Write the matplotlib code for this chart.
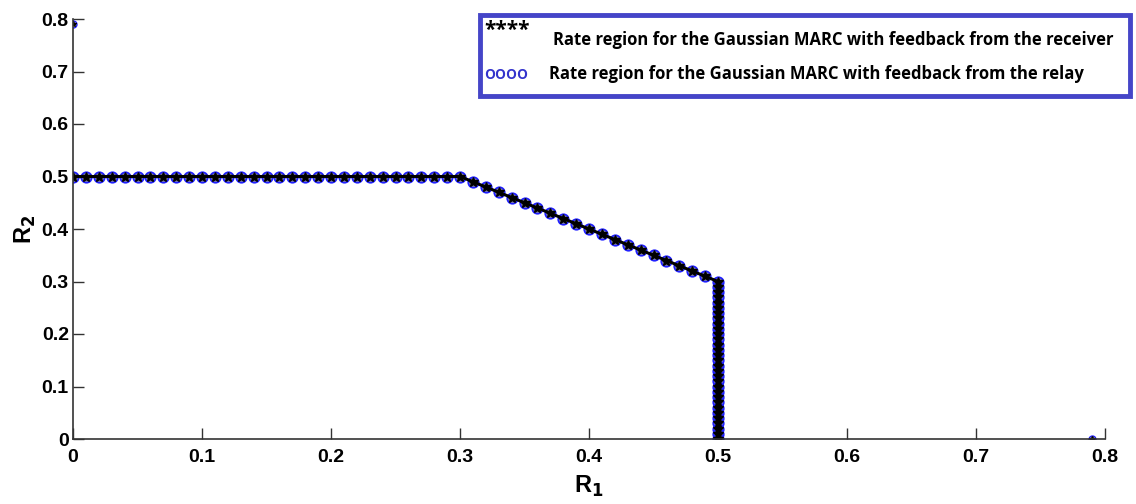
import matplotlib
matplotlib.use("Agg")
import matplotlib.pyplot as plt
from matplotlib.patches import Rectangle

# ---- data ----
# horizontal part (R2 = 0.5)
flat_r1 = [0.00, 0.01, 0.02, 0.03, 0.04, 0.05, 0.06, 0.07, 0.08, 0.09,
           0.10, 0.11, 0.12, 0.13, 0.14, 0.15, 0.16, 0.17, 0.18, 0.19,
           0.20, 0.21, 0.22, 0.23, 0.24, 0.25, 0.26, 0.27, 0.28, 0.29]
flat_r2 = [0.50, 0.50, 0.50, 0.50, 0.50, 0.50, 0.50, 0.50, 0.50, 0.50,
           0.50, 0.50, 0.50, 0.50, 0.50, 0.50, 0.50, 0.50, 0.50, 0.50,
           0.50, 0.50, 0.50, 0.50, 0.50, 0.50, 0.50, 0.50, 0.50, 0.50]
# sloped part (R1 + R2 = 0.8)
slope_r1 = [0.30, 0.31, 0.32, 0.33, 0.34, 0.35, 0.36, 0.37, 0.38, 0.39, 0.40,
            0.41, 0.42, 0.43, 0.44, 0.45, 0.46, 0.47, 0.48, 0.49, 0.50]
slope_r2 = [0.50, 0.49, 0.48, 0.47, 0.46, 0.45, 0.44, 0.43, 0.42, 0.41, 0.40,
            0.39, 0.38, 0.37, 0.36, 0.35, 0.34, 0.33, 0.32, 0.31, 0.30]
# vertical part (R1 = 0.5)
vert_r1 = [0.50, 0.50, 0.50, 0.50, 0.50, 0.50, 0.50, 0.50, 0.50, 0.50,
           0.50, 0.50, 0.50, 0.50, 0.50, 0.50, 0.50, 0.50, 0.50, 0.50,
           0.50, 0.50, 0.50, 0.50, 0.50, 0.50, 0.50, 0.50, 0.50, 0.50]
vert_r2 = [0.29, 0.28, 0.27, 0.26, 0.25, 0.24, 0.23, 0.22, 0.21, 0.20,
           0.19, 0.18, 0.17, 0.16, 0.15, 0.14, 0.13, 0.12, 0.11, 0.10,
           0.09, 0.08, 0.07, 0.06, 0.05, 0.04, 0.03, 0.02, 0.01, 0.00]
# single-user extreme points
extreme_r1 = [0.00, 0.79]
extreme_r2 = [0.79, 0.00]

x_ticks = [0, 0.1, 0.2, 0.3, 0.4, 0.5, 0.6, 0.7, 0.8]
y_ticks = [0, 0.1, 0.2, 0.3, 0.4, 0.5, 0.6, 0.7, 0.8]
x_ticklabels = ["0", "0.1", "0.2", "0.3", "0.4", "0.5", "0.6", "0.7", "0.8"]
y_ticklabels = ["0", "0.1", "0.2", "0.3", "0.4", "0.5", "0.6", "0.7", "0.8"]

legend_receiver = "Rate region for the Gaussian MARC with feedback from the receiver"
legend_relay = "Rate region for the Gaussian MARC with feedback from the relay"

region_r1 = flat_r1 + slope_r1 + vert_r1
region_r2 = flat_r2 + slope_r2 + vert_r2

tick_font = ["Liberation Sans Narrow", "Liberation Sans", "DejaVu Sans"]
leg_font = ["Open Sans", "DejaVu Sans"]

fig = plt.figure(figsize=(11.36, 5.04), dpi=100)
ax = fig.add_axes([73 / 1136, 1 - 439 / 504, (1105 - 73) / 1136, (439 - 19) / 504])

# relay: blue circles
ax.plot(region_r1, region_r2, linestyle="none", marker="o", markersize=7.5,
        markerfacecolor="#9090a0", markeredgecolor="#2020ff", markeredgewidth=1.3)
ax.plot(extreme_r1, extreme_r2, linestyle="none", marker="o", markersize=5,
        markerfacecolor="none", markeredgecolor="#2020ff", markeredgewidth=1.0)
# receiver: black stars with line
ax.plot(region_r1, region_r2, color="black", linewidth=2.2, marker="*",
        markersize=7.5, markerfacecolor="black", markeredgecolor="black")
ax.plot(extreme_r1, extreme_r2, linestyle="none", marker="*", markersize=4,
        color="black")

ax.set_xlim(0, 0.8)
ax.set_ylim(0, 0.8)
ax.set_xticks(x_ticks)
ax.set_yticks(y_ticks)
ax.set_xticklabels(x_ticklabels, fontfamily=tick_font, fontweight="bold", fontsize=14)
ax.set_yticklabels(y_ticklabels, fontfamily=tick_font, fontweight="bold", fontsize=14)
ax.tick_params(direction="in", length=8, width=1, color="#333333")
ax.tick_params(axis="x", pad=7)
ax.tick_params(axis="y", pad=3)
for s in ("top", "right"):
    ax.spines[s].set_visible(False)
for s in ("left", "bottom"):
    ax.spines[s].set_linewidth(1.2)
    ax.spines[s].set_color("#333333")

ax.set_xlabel("R$_\\mathbf{1}$", fontfamily=tick_font, fontweight="bold", fontsize=17, labelpad=6)
ax.set_ylabel("R$_\\mathbf{2}$", fontfamily=tick_font, fontweight="bold", fontsize=17, labelpad=3)

# custom legend box
fig.patches.append(Rectangle((480 / 1136, 1 - 96 / 504), (1130 - 480) / 1136, (96 - 15) / 504,
                             transform=fig.transFigure, facecolor="white",
                             edgecolor="#4545c8", linewidth=3.5))
fig.text(484 / 1136, 1 - 30 / 504, "****", fontsize=15, fontweight="bold",
         fontfamily=leg_font, color="black", va="center", ha="left")
fig.text(484 / 1136, 1 - 74 / 504, "oooo", fontsize=13, fontweight="semibold",
         fontfamily=leg_font, color="#3333cc", va="center", ha="left")
fig.text(553 / 1136, 1 - 40 / 504, legend_receiver, fontsize=12.0, fontweight="bold",
         fontfamily=leg_font, color="black", va="center", ha="left")
fig.text(549 / 1136, 1 - 74 / 504, legend_relay, fontsize=12.0, fontweight="bold",
         fontfamily=leg_font, color="black", va="center", ha="left")

fig.savefig("out.png", dpi=100)
